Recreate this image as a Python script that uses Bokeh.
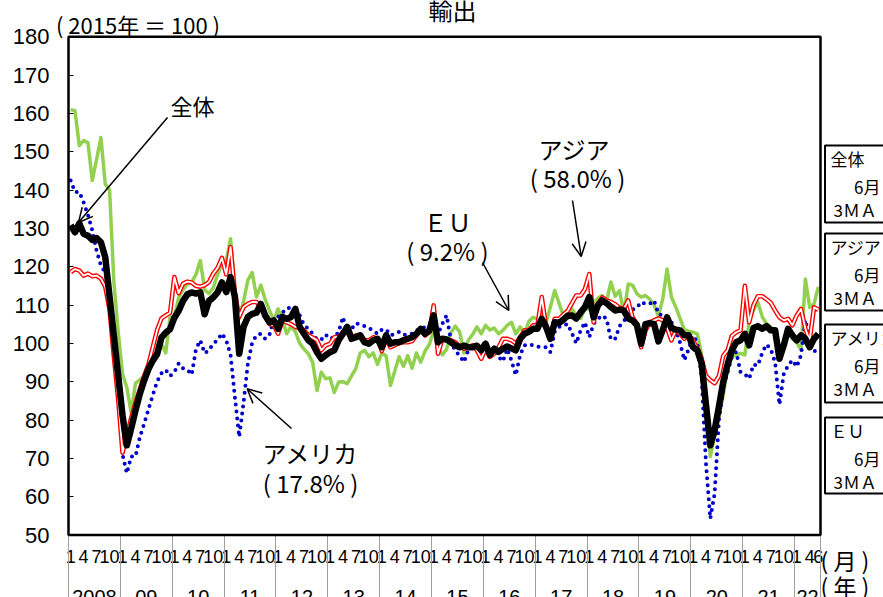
from bokeh.plotting import figure
from bokeh.models import (Range1d, FixedTicker, Label, Arrow, OpenHead,
                          BoxAnnotation, ColumnDataSource, LinearAxis)
from bokeh.embed import file_html
from bokeh.resources import INLINE

# ---------------- data (monthly, 2008/1 - 2022/6, 2015 = 100) ----------------
total = [
    130.8, 129.0, 131.3, 128.6, 128.1, 127.0, 127.5, 126.4, 122.5, 112.2, 101.9, 91.6,
    81.2, 73.4, 77.8, 82.5, 86.8, 90.3, 93.3, 95.5, 97.2, 101.5, 102.8, 103.7,
    106.7, 108.5, 111.1, 112.8, 113.3, 113.0, 113.3, 107.6, 111.1, 112.0, 113.3, 115.9,
    113.4, 117.3, 112.1, 97.3, 104.3, 106.9, 107.7, 108.0, 110.3, 107.3, 105.5, 106.0,
    103.8, 106.9, 106.4, 106.9, 109.0, 104.3, 102.5, 100.8, 99.9, 97.7, 96.0, 96.9,
    97.7, 98.2, 100.8, 102.5, 104.3, 101.2, 101.6, 102.1, 100.3, 99.9, 100.8, 101.2,
    99.0, 102.1, 99.9, 100.3, 100.3, 100.8, 101.2, 101.6, 102.5, 103.8, 102.5, 103.4,
    107.3, 100.3, 101.2, 101.0, 100.3, 99.5, 99.0, 99.4, 99.0, 99.0, 99.4, 98.2,
    99.9, 97.0, 98.6, 97.8, 98.6, 99.2, 98.7, 98.2, 101.2, 102.5, 103.0, 103.8,
    103.8, 106.4, 104.3, 101.2, 105.5, 105.3, 106.2, 107.2, 107.3, 106.5, 108.1, 109.5,
    112.1, 106.8, 109.9, 111.2, 110.5, 109.5, 108.6, 108.8, 108.6, 106.5, 106.0, 104.8,
    99.9, 105.0, 105.3, 105.0, 100.5, 103.5, 106.8, 104.0, 103.6, 103.4, 102.1, 102.1,
    99.0, 98.2, 94.7, 84.0, 73.4, 77.3, 83.5, 90.0, 94.5, 98.2, 100.3, 100.8,
    102.5, 99.5, 104.0, 104.5, 103.8, 104.5, 103.4, 103.4, 96.0, 99.5, 103.8, 102.1,
    100.8, 102.1, 101.2, 99.0, 101.2, 102.5,
]
asia = [
    118.6, 119.4, 119.0, 117.7, 118.2, 117.5, 117.7, 116.9, 114.8, 108.8, 96.6, 85.4,
    71.5, 76.0, 80.5, 84.5, 88.0, 91.5, 94.5, 99.0, 103.5, 106.5, 107.3, 108.0,
    117.3, 113.1, 115.6, 116.1, 115.9, 115.0, 114.8, 115.2, 116.0, 118.2, 119.7, 122.3,
    118.0, 125.1, 113.0, 106.9, 109.5, 110.3, 110.8, 110.8, 109.5, 107.7, 105.1, 104.7,
    102.5, 106.0, 105.5, 105.0, 104.3, 104.0, 103.4, 102.1, 101.5, 100.8, 98.2, 99.5,
    99.9, 101.6, 101.6, 102.9, 102.9, 101.2, 102.1, 101.6, 100.8, 100.8, 101.6, 101.2,
    98.0, 101.2, 99.0, 99.5, 100.1, 100.3, 100.3, 100.6, 102.1, 103.4, 102.1, 103.0,
    109.9, 97.3, 101.2, 100.8, 100.8, 100.3, 99.2, 98.6, 98.9, 99.5, 98.2, 96.0,
    98.6, 96.5, 97.3, 99.0, 101.2, 101.2, 100.8, 100.0, 101.6, 103.4, 103.4, 104.7,
    104.7, 112.1, 104.3, 101.8, 106.4, 106.4, 107.5, 108.5, 110.5, 112.5, 112.5, 114.2,
    118.1, 105.5, 110.3, 112.0, 111.2, 110.8, 110.2, 109.3, 109.0, 111.2, 106.8, 105.1,
    99.0, 103.4, 105.5, 106.0, 106.5, 106.0, 104.0, 100.8, 103.4, 102.5, 101.2, 102.1,
    100.8, 98.6, 96.0, 91.5, 90.4, 89.6, 91.5, 96.8, 98.2, 102.0, 102.9, 103.4,
    115.0, 105.5, 110.0, 112.3, 112.3, 111.5, 110.6, 108.6, 106.8, 106.0, 106.4, 104.7,
    107.3, 109.0, 103.8, 100.8, 109.4, 108.8,
]
america = [
    142.5, 139.5, 139.5, 136.8, 133.5, 129.5, 124.2, 120.3, 118.5, 111.2, 100.5, 88.0,
    71.0, 66.1, 70.5, 70.5, 75.5, 79.0, 82.8, 86.5, 90.0, 92.2, 93.1, 91.5,
    92.5, 94.8, 93.5, 93.1, 91.8, 98.5, 100.8, 97.4, 98.2, 100.0, 100.8, 102.6,
    100.8, 97.0, 86.0, 75.6, 84.5, 94.7, 100.2, 102.1, 102.5, 101.2, 102.2, 106.4,
    106.9, 108.0, 109.2, 109.3, 108.5, 107.3, 104.8, 103.8, 102.5, 101.0, 101.0, 102.3,
    101.2, 101.6, 103.0, 106.9, 102.8, 103.8, 105.3, 104.8, 104.5, 104.0, 103.3, 102.5,
    103.6, 103.6, 102.1, 102.5, 103.0, 102.2, 102.3, 102.5, 103.4, 103.8, 104.3, 103.2,
    102.8, 102.5, 105.1, 107.3, 100.5, 98.0, 96.8, 95.1, 98.2, 99.0, 99.5, 99.0,
    100.5, 97.9, 98.0, 96.5, 95.3, 98.6, 95.5, 91.7, 97.0, 99.5, 99.8, 99.5,
    99.2, 99.0, 99.0, 97.7, 103.0, 104.3, 104.7, 105.1, 102.6, 100.0, 103.4, 105.5,
    101.6, 105.1, 106.4, 107.3, 106.4, 101.0, 101.2, 104.5, 105.8, 107.5, 108.8, 109.3,
    110.8, 110.3, 110.3, 111.2, 107.7, 107.3, 106.4, 105.5, 103.5, 100.2, 95.6, 98.5,
    102.0, 100.3, 91.0, 68.6, 54.3, 60.8, 80.0, 88.5, 92.5, 96.5, 97.8, 92.5,
    92.0, 90.8, 94.5, 94.2, 97.5, 99.7, 98.5, 95.0, 84.0, 92.0, 94.2, 95.6,
    93.9, 97.0, 106.1, 100.8, 98.2, 97.3,
]
eu = [
    161.0, 160.7, 151.6, 152.9, 152.4, 142.5, 148.0, 153.7, 141.6, 140.0, 116.0, 103.0,
    92.0, 88.5, 82.0, 89.6, 90.5, 91.5, 92.2, 95.5, 98.0, 100.0, 97.5, 106.9,
    106.9, 112.0, 114.0, 115.5, 116.0, 118.0, 121.6, 114.0, 113.0, 114.5, 118.0, 120.7,
    121.6, 127.3, 114.0, 106.5, 111.0, 116.5, 118.5, 112.1, 115.2, 111.5, 108.6, 106.0,
    109.0, 106.0, 102.5, 104.5, 103.0, 100.0, 98.5, 97.3, 95.0, 87.7, 92.5, 90.8,
    91.0, 87.2, 89.9, 90.0, 89.5, 91.5, 93.5, 97.5, 98.2, 96.5, 97.5, 94.5,
    97.5, 96.7, 89.0, 92.8, 96.5, 94.0, 96.8, 93.5, 97.5, 95.1, 98.0, 99.7,
    103.4, 98.8, 97.0, 98.5, 102.8, 104.5, 103.0, 97.5, 100.8, 102.3, 104.3, 102.5,
    104.7, 103.5, 104.0, 102.5, 103.4, 104.7, 105.5, 102.5, 104.3, 102.5, 105.7, 106.8,
    106.4, 107.3, 105.5, 109.5, 113.8, 110.5, 107.2, 106.8, 109.0, 107.3, 106.5, 109.0,
    109.0, 110.5, 111.8, 112.5, 111.0, 116.0, 112.3, 113.8, 107.7, 115.5, 115.2, 113.0,
    112.1, 112.5, 111.5, 110.0, 107.2, 111.6, 119.4, 112.1, 109.5, 106.5, 103.6, 103.2,
    102.9, 102.5, 97.0, 85.0, 70.5, 75.7, 81.0, 86.5, 93.5, 96.5, 97.0, 97.4,
    97.0, 106.0, 108.6, 110.8, 107.0, 105.1, 104.3, 102.9, 99.1, 99.9, 102.9, 101.2,
    100.3, 98.2, 116.8, 109.4, 110.3, 114.7,
]

years = ["2008", "09", "10", "11", "12", "13", "14", "15", "16", "17",
         "18", "19", "20", "21", "22"]
months_shown = [1, 4, 7, 10]
last_year_months = [1, 4, 6]
y_ticks = list(range(50, 181, 10))
Y_MIN, Y_MAX = 50, 180

boxes = [("全体", "6月", "3ＭＡ"), ("アジア", "6月", "3ＭＡ"),
         ("アメリカ", "6月", "3ＭＡ"), ("ＥＵ", "6月", "3ＭＡ")]

N = len(total)
assert N == len(asia) == len(america) == len(eu) == 174
xs = [i + 0.5 for i in range(N)]

# ---------------- layout (pixels of the page) ----------------
W, H = 883, 597
PL, PR, PT, PB = 68.0, 820.0, 36.3, 534.5      # plot-area edges
sx = (PR - PL) / N
sy = (PB - PT) / (Y_MAX - Y_MIN)

def px2x(px):
    return (px - PL) / sx

def px2y(py):
    return Y_MIN + (PB - py) / sy

JP = "Noto Sans CJK JP"
AR = "Liberation Sans"
AR_NARROW = "Liberation Sans Narrow, Liberation Sans"

p = figure(width=W, height=H, output_backend="svg", toolbar_location=None,
           x_range=Range1d(px2x(0), px2x(W)), y_range=Range1d(px2y(H), px2y(0)),
           min_border=0, background_fill_color="white", border_fill_color="white")
p.xgrid.visible = False
p.ygrid.visible = False
p.outline_line_color = None

# y axis, pinned to the left edge of the plot area
ya = p.yaxis[0]
ya.fixed_location = 0
ya.ticker = FixedTicker(ticks=y_ticks)
ya.major_tick_in = 5
ya.major_tick_out = 0
ya.minor_tick_in = 0
ya.minor_tick_out = 0
ya.major_tick_line_color = "black"
ya.axis_line_color = None
ya.major_label_text_font = AR
ya.major_label_text_font_size = "22px"
ya.major_label_text_color = "black"
ya.major_label_standoff = 19

# x axis, pinned to the bottom of the plot area: month labels
tick_pos, tick_lab = [], []
for k, yr in enumerate(years):
    ms = last_year_months if k == len(years) - 1 else months_shown
    for m in ms:
        tick_pos.append(12 * k + m - 0.5)
        tick_lab.append(str(m))
bounds = [12 * k for k in range(len(years))] + [N]
xa = p.xaxis[0]
xa.fixed_location = Y_MIN
xa.ticker = FixedTicker(ticks=tick_pos, minor_ticks=[])
xa.major_label_overrides = {pos: lab for pos, lab in zip(tick_pos, tick_lab)}
xa.major_tick_in = 0
xa.major_tick_out = 0
xa.minor_tick_in = 0
xa.minor_tick_out = 0
xa.axis_line_color = None
xa.major_label_text_font = AR_NARROW
xa.major_label_text_font_size = "18px"
xa.major_label_text_color = "black"
xa.major_label_standoff = 15

# year separators: a second pinned axis that only draws long minor ticks
sep = LinearAxis(fixed_location=Y_MIN,
                 ticker=FixedTicker(ticks=[], minor_ticks=bounds),
                 major_tick_in=0, major_tick_out=0,
                 minor_tick_in=0, minor_tick_out=64,
                 minor_tick_line_color="#a0a0a0", minor_tick_line_width=1,
                 axis_line_color=None)
p.add_layout(sep, "below")

# year labels under the month labels
for k, yr in enumerate(years):
    lo = 12 * k
    hi = min(12 * (k + 1), N)
    p.add_layout(Label(x=(lo + hi) / 2, y=px2y(589), text=yr, text_align="center",
                       text_baseline="top", text_font=AR, text_font_size="20px",
                       text_color="black"))

# series
src = ColumnDataSource(dict(x=xs, total=total, asia=asia, america=america, eu=eu))
p.line("x", "eu", source=src, line_color="#92D050", line_width=3.5, line_join="round")
p.line("x", "america", source=src, line_color="#0000CC", line_width=4,
       line_dash="0 7", line_cap="round")
p.line("x", "asia", source=src, line_color="#FF0000", line_width=4.6, line_join="round")
p.line("x", "asia", source=src, line_color="white", line_width=1.8, line_join="round")
p.line("x", "total", source=src, line_color="black", line_width=6.5, line_join="round")

# plot-area frame
p.add_layout(BoxAnnotation(left=0, right=N, bottom=Y_MIN, top=Y_MAX,
                           fill_color=None, line_color="black", line_alpha=1.0,
                           line_width=2.5))

# annotations inside the chart
def lab(px, py, text, size="24px", align="center"):
    p.add_layout(Label(x=px2x(px), y=px2y(py), text=text, text_align=align,
                       text_baseline="middle", text_font=JP,
                       text_font_size=size, text_color="black"))

lab(192, 104, "全体", size="22px")
lab(574, 148, "アジア")
lab(577, 177, "( 58.0% )")
lab(447, 221, "ＥＵ")
lab(447, 250, "( 9.2% )")
lab(310, 452, "アメリカ")
lab(310, 482, "( 17.8% )")

def arrow(x0, y0, x1, y1):
    p.add_layout(Arrow(end=OpenHead(size=14, line_width=1.5, line_color="black"),
                       x_start=px2x(x0), y_start=px2y(y0),
                       x_end=px2x(x1), y_end=px2y(y1),
                       line_width=1.5, line_color="black"))

arrow(167, 117, 78, 222)
arrow(572, 200, 580.7, 256)
arrow(482, 262, 508.3, 310)
arrow(291, 428, 246.7, 388.3)

# texts around the plot area
lab(137.5, 23, "( 2015年 ＝ 100 )", size="22px")
lab(452, 9, "輸出", size="24px")
lab(820, 559, "( 月 )", size="23px", align="left")
lab(820, 585, "( 年 )", size="23px", align="left")

# legend-like boxes at the right edge
box_tops = [145, 233, 324, 417]
box_bottoms = [222, 310, 402, 493]
for (t1, t2, t3), top, bot in zip(boxes, box_tops, box_bottoms):
    p.add_layout(BoxAnnotation(left=px2x(824.5), right=px2x(W + 30),
                               top=px2y(top), bottom=px2y(bot),
                               fill_color="white", fill_alpha=1.0,
                               line_color="black", line_alpha=1.0, line_width=2))
    lab(830, top + 13, t1, size="17px", align="left")
    lab(880, top + 41, t2, size="17px", align="right")
    lab(833, top + 64, t3, size="17px", align="left")

open("out.html", "w").write(file_html(p, INLINE))
